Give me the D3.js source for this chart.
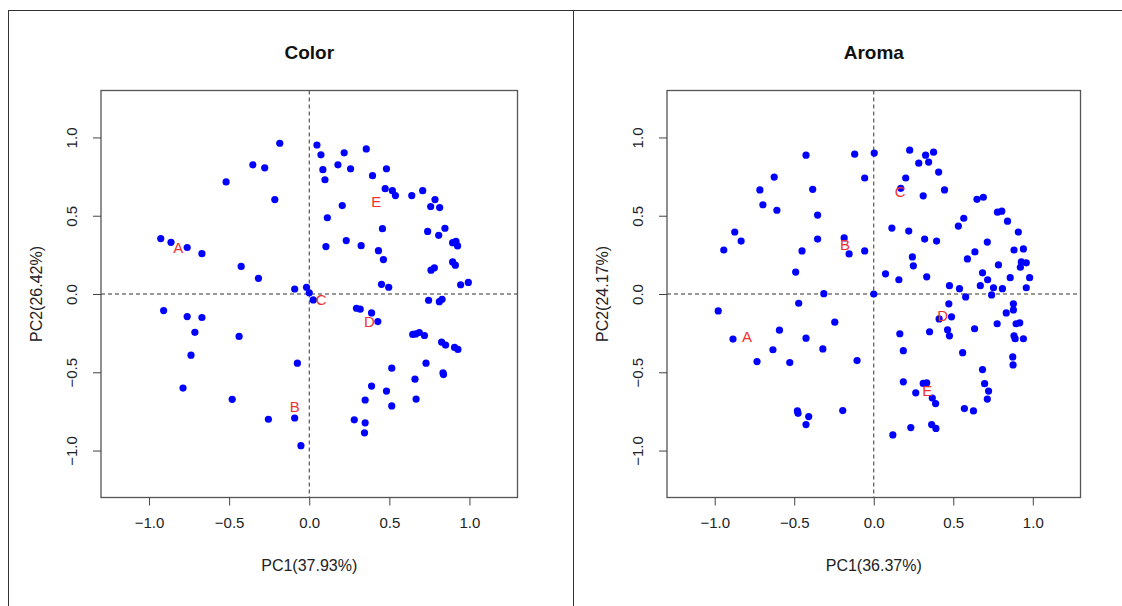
<!DOCTYPE html>
<html>
<head>
<meta charset="utf-8">
<script src="https://cdn.jsdelivr.net/npm/d3@7"></script>
<style>
  body { margin: 0; background: #fff; }
  svg { display: block; font-family: "Liberation Sans", Arial, sans-serif; }
</style>
</head>
<body>
<script>
// Color loadings (PC1, PC2)
const colorPC1 = [-0.184, -0.352, -0.278, -0.519, -0.215, -0.927, -0.863, -0.762, -0.670, -0.425,
  -0.317, -0.091, -0.017, 0.000, 0.025, 0.048, 0.073, 0.218, 0.356, 0.179,
  0.258, 0.085, 0.482, 0.395, 0.098, 0.474, 0.519, 0.538, 0.640, 0.708,
  0.785, 0.758, 0.814, 0.206, 0.113, 0.457, 0.739, 0.847, 0.808, 0.231,
  0.104, 0.324, 0.432, 0.463, 0.895, 0.916, 0.926, 0.895, 0.912, 0.760,
  0.781, 0.451, 0.496, 0.945, 0.993, -0.909, -0.762, -0.670, -0.714, -0.438,
  -0.738, -0.074, -0.788, -0.481, -0.255, -0.091, -0.052, 0.295, 0.318, 0.389,
  0.428, 0.745, 0.812, 0.829, 0.646, 0.687, 0.719, 0.665, 0.826, 0.851,
  0.907, 0.928, 0.515, 0.729, 0.835, 0.838, 0.660, 0.389, 0.482, 0.349,
  0.667, 0.515, 0.281, 0.349, 0.345];
const colorPC2 = [0.963, 0.825, 0.806, 0.716, 0.603, 0.354, 0.330, 0.297, 0.258, 0.176,
  0.100, 0.032, 0.043, 0.008, -0.038, 0.952, 0.889, 0.902, 0.927, 0.825,
  0.800, 0.794, 0.800, 0.756, 0.730, 0.673, 0.660, 0.629, 0.629, 0.660,
  0.603, 0.559, 0.552, 0.565, 0.487, 0.417, 0.400, 0.420, 0.375, 0.341,
  0.303, 0.309, 0.277, 0.220, 0.328, 0.337, 0.307, 0.205, 0.184, 0.152,
  0.167, 0.062, 0.043, 0.059, 0.074, -0.106, -0.144, -0.150, -0.245, -0.271,
  -0.391, -0.442, -0.601, -0.673, -0.800, -0.792, -0.969, -0.091, -0.097, -0.121,
  -0.176, -0.040, -0.049, -0.034, -0.258, -0.246, -0.265, -0.255, -0.307, -0.326,
  -0.341, -0.354, -0.474, -0.442, -0.504, -0.515, -0.544, -0.588, -0.620, -0.677,
  -0.671, -0.715, -0.804, -0.823, -0.887];

// Aroma loadings (PC1, PC2)
const aromaPC1 = [-0.426, -0.120, 0.003, -0.057, -0.626, -0.716, -0.384, -0.697, -0.609, -0.353,
  -0.874, -0.834, -0.943, -0.353, -0.186, -0.155, -0.057, -0.451, -0.491, -0.314,
  0.000, 0.226, 0.326, 0.376, 0.283, 0.345, 0.408, 0.201, 0.170, 0.311,
  0.445, 0.649, 0.689, 0.778, 0.805, 0.841, 0.566, 0.532, 0.114, 0.220,
  0.320, 0.395, 0.909, 0.714, 0.882, 0.941, 0.636, 0.589, 0.243, 0.249,
  0.784, 0.928, 0.959, 0.922, 0.074, 0.158, 0.333, 0.684, 0.716, 0.858,
  0.980, 0.476, 0.539, 0.670, 0.753, 0.809, 0.959, 0.578, 0.741, 0.472,
  0.878, 0.878, 0.833, 0.489, 0.411, 0.776, 0.895, 0.918, 0.164, 0.351,
  0.464, 0.476, 0.634, 0.882, 0.889, 0.941, 0.186, 0.559, 0.874, 0.876,
  0.684, 0.186, 0.311, 0.333, 0.264, 0.697, 0.722, 0.714, 0.368, 0.389,
  0.570, 0.627, 0.364, 0.391, 0.233, 0.120, -0.472, -0.978, -0.245, -0.593,
  -0.885, -0.426, -0.634, -0.320, -0.734, -0.528, -0.105, -0.480, -0.476, -0.409,
  -0.426, -0.195];
const aromaPC2 = [0.887, 0.893, 0.900, 0.741, 0.747, 0.665, 0.669, 0.570, 0.535, 0.504,
  0.396, 0.338, 0.281, 0.351, 0.358, 0.256, 0.275, 0.275, 0.140, 0.002,
  0.000, 0.919, 0.887, 0.906, 0.836, 0.843, 0.779, 0.741, 0.675, 0.627,
  0.665, 0.605, 0.618, 0.523, 0.529, 0.465, 0.484, 0.434, 0.421, 0.402,
  0.351, 0.338, 0.396, 0.332, 0.281, 0.288, 0.269, 0.224, 0.237, 0.180,
  0.186, 0.205, 0.199, 0.171, 0.129, 0.091, 0.110, 0.135, 0.091, 0.104,
  0.104, 0.053, 0.034, 0.053, 0.040, 0.034, 0.040, -0.019, -0.006, -0.063,
  -0.063, -0.102, -0.121, -0.146, -0.159, -0.190, -0.190, -0.184, -0.254, -0.241,
  -0.229, -0.267, -0.222, -0.267, -0.286, -0.286, -0.362, -0.375, -0.402, -0.453,
  -0.483, -0.561, -0.571, -0.567, -0.631, -0.573, -0.620, -0.671, -0.665, -0.700,
  -0.732, -0.747, -0.834, -0.859, -0.853, -0.900, -0.059, -0.108, -0.180, -0.231,
  -0.288, -0.282, -0.356, -0.351, -0.432, -0.438, -0.425, -0.747, -0.762, -0.783,
  -0.834, -0.745];

// Group labels (score centroids)
const groupNames = ["A", "B", "C", "D", "E"];
const colorGroupPC1 = [-0.818, -0.091, 0.075, 0.376, 0.418];
const colorGroupPC2 = [0.297, -0.720, -0.038, -0.176, 0.590];
const aromaGroupPC1 = [-0.797, -0.180, 0.166, 0.433, 0.336];
const aromaGroupPC2 = [-0.271, 0.316, 0.654, -0.138, -0.620];

const tickValues = [-1.0, -0.5, 0.0, 0.5, 1.0];

const W = 1122, H = 606;
const svg = d3.select("body").append("svg")
  .attr("width", W)
  .attr("height", H);

// outer frame
svg.append("line").attr("x1", 8).attr("x2", W).attr("y1", 10.5).attr("y2", 10.5).attr("stroke", "#333");
svg.append("line").attr("x1", 8.5).attr("x2", 8.5).attr("y1", 10).attr("y2", H).attr("stroke", "#333");
svg.append("line").attr("x1", 573.5).attr("x2", 573.5).attr("y1", 10).attr("y2", H).attr("stroke", "#333");

function drawPanel(p) {
  const x = d3.scaleLinear().domain([-1.3, 1.3]).range([p.left, p.right]);
  const y = d3.scaleLinear().domain([-1.3, 1.3]).range([p.bottom, p.top]);
  const g = svg.append("g");

  // title
  g.append("text")
    .attr("x", (p.left + p.right) / 2)
    .attr("y", 59)
    .attr("text-anchor", "middle")
    .style("font-size", "19px")
    .style("font-weight", "bold")
    .style("fill", "#111")
    .text(p.title);

  // zero lines
  g.append("line")
    .attr("x1", x(0)).attr("x2", x(0))
    .attr("y1", p.top).attr("y2", p.bottom)
    .attr("stroke", "#333").attr("stroke-dasharray", "4,3");
  g.append("line")
    .attr("x1", p.left).attr("x2", p.right)
    .attr("y1", y(0)).attr("y2", y(0))
    .attr("stroke", "#333").attr("stroke-dasharray", "4,3");

  // points
  g.selectAll("circle")
    .data(p.pc1.map((d, i) => [d, p.pc2[i]]))
    .enter().append("circle")
    .attr("cx", d => x(d[0]))
    .attr("cy", d => y(d[1]))
    .attr("r", 3.6)
    .style("fill", "#0000ff");

  // group labels
  g.selectAll(".grp")
    .data(groupNames)
    .enter().append("text")
    .attr("class", "grp")
    .attr("x", (d, i) => x(p.gx[i]))
    .attr("y", (d, i) => y(p.gy[i]))
    .attr("dy", "0.36em")
    .attr("text-anchor", "middle")
    .style("font-size", "15px")
    .style("fill", "#f03030")
    .text(d => d);

  // box
  g.append("rect")
    .attr("x", p.left).attr("y", p.top)
    .attr("width", p.right - p.left).attr("height", p.bottom - p.top)
    .attr("fill", "none").attr("stroke", "#555").attr("stroke-width", 1.3);

  // x axis
  const xa = g.append("g")
    .attr("transform", `translate(0, ${p.bottom})`)
    .call(d3.axisBottom(x).tickValues(tickValues).tickSize(8).tickPadding(12)
      .tickFormat(d3.format(".1f")));
  xa.select(".domain").remove();
  xa.selectAll("line").attr("stroke", "#444");
  xa.selectAll("text").style("font-size", "15px").style("fill", "#222")
    .style("font-family", "Liberation Sans, Arial, sans-serif");

  // y axis, labels parallel to axis
  const ya = g.append("g")
    .attr("transform", `translate(${p.left}, 0)`)
    .call(d3.axisLeft(y).tickValues(tickValues).tickSize(8)
      .tickFormat(d3.format(".1f")));
  ya.select(".domain").remove();
  ya.selectAll("line").attr("stroke", "#444");
  ya.selectAll("text")
    .attr("transform", "rotate(-90)")
    .attr("x", 0).attr("y", -29).attr("dy", "0.35em")
    .attr("text-anchor", "middle")
    .style("font-size", "15px").style("fill", "#222")
    .style("font-family", "Liberation Sans, Arial, sans-serif");

  // axis titles
  g.append("text")
    .attr("x", (p.left + p.right) / 2)
    .attr("y", 571)
    .attr("text-anchor", "middle")
    .style("font-size", "16px").style("fill", "#222")
    .text(p.xlab);
  g.append("text")
    .attr("transform", `translate(${p.left - 65}, ${(p.top + p.bottom) / 2}) rotate(-90)`)
    .attr("dy", "0.35em")
    .attr("text-anchor", "middle")
    .style("font-size", "16px").style("fill", "#222")
    .text(p.ylab);
}

drawPanel({
  title: "Color", left: 101, right: 517.5, top: 90.5, bottom: 497.5,
  pc1: colorPC1, pc2: colorPC2, gx: colorGroupPC1, gy: colorGroupPC2,
  xlab: "PC1(37.93%)", ylab: "PC2(26.42%)"
});
drawPanel({
  title: "Aroma", left: 667, right: 1080.5, top: 90.5, bottom: 497.5,
  pc1: aromaPC1, pc2: aromaPC2, gx: aromaGroupPC1, gy: aromaGroupPC2,
  xlab: "PC1(36.37%)", ylab: "PC2(24.17%)"
});
</script>
</body>
</html>
